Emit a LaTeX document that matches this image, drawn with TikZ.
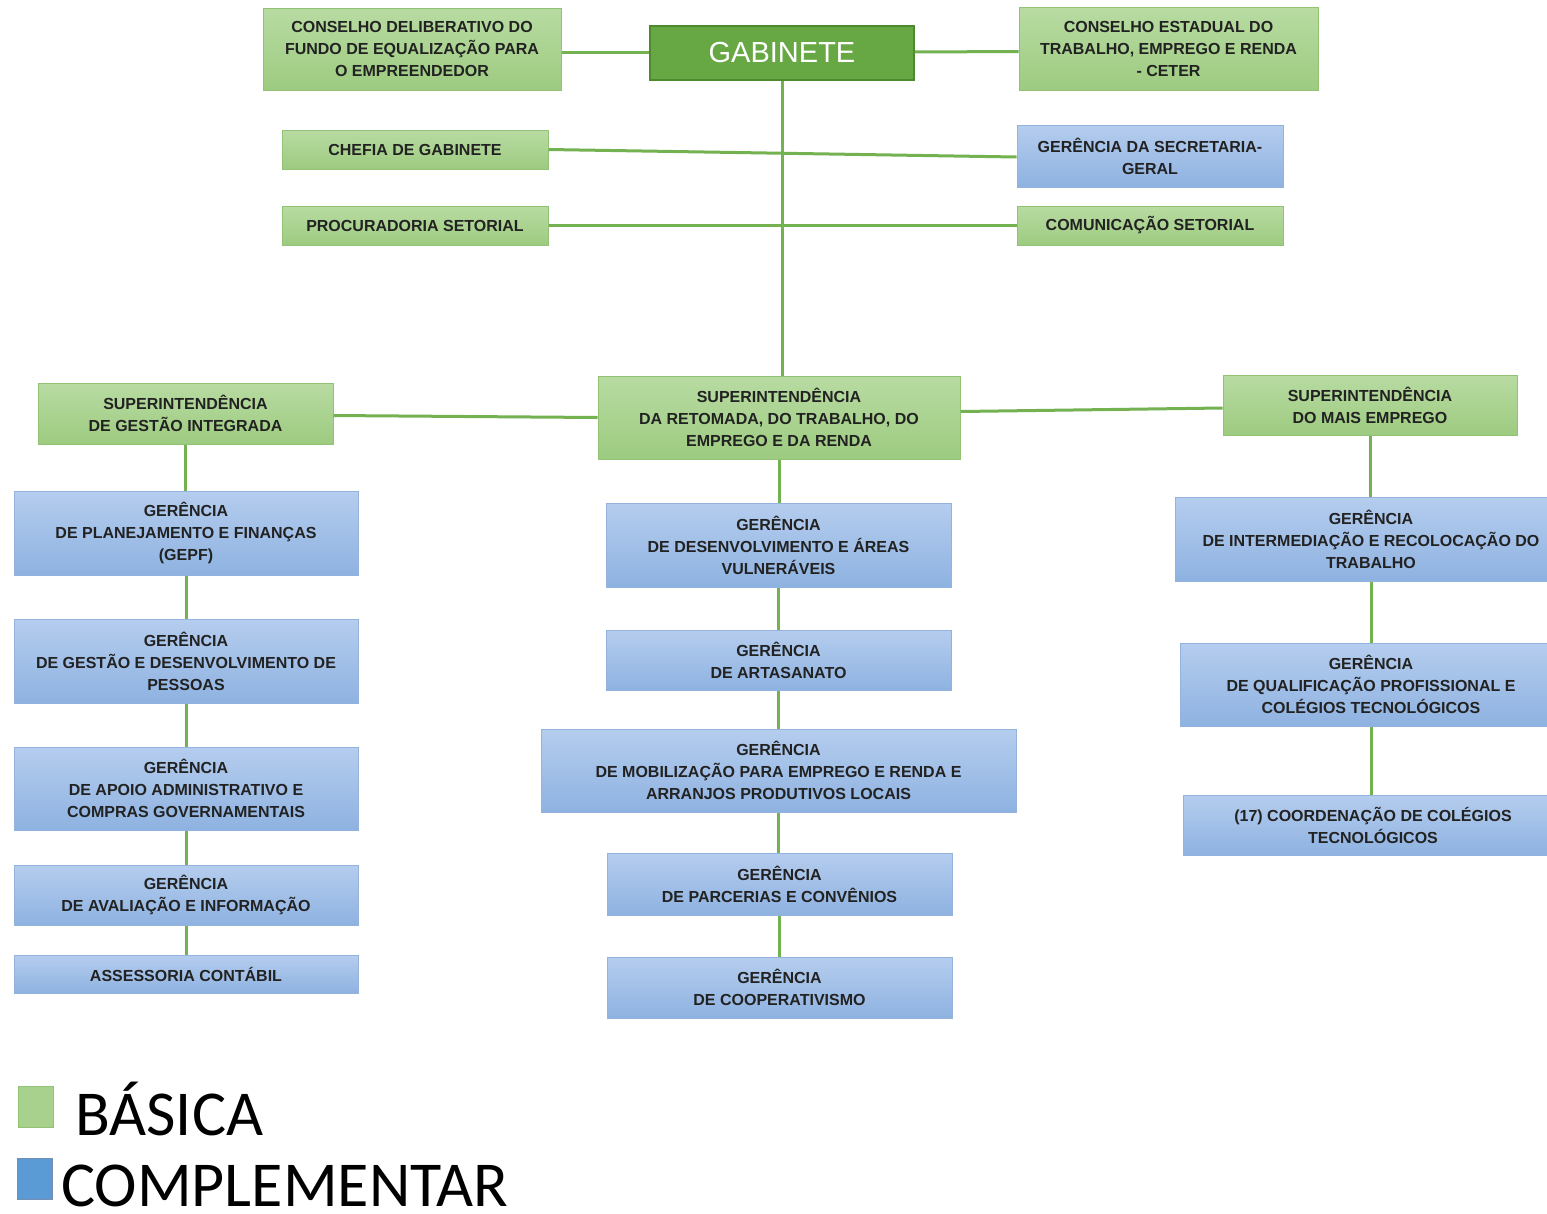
\documentclass[tikz,border=0pt]{standalone}
\usepackage{fontspec}
\setmainfont{Liberation Sans}
\newfontfamily\legfont{Carlito}
\definecolor{gtop}{HTML}{B8DBA2}
\definecolor{gbot}{HTML}{9DCB80}
\definecolor{gbrd}{HTML}{92C274}
\definecolor{btop}{HTML}{B5CDEE}
\definecolor{bbot}{HTML}{8EB2E1}
\definecolor{bbrd}{HTML}{93B3DD}
\definecolor{gabfill}{HTML}{68A844}
\definecolor{gabbrd}{HTML}{4D8A2E}
\definecolor{conn}{HTML}{74B150}
\definecolor{txt}{HTML}{222222}
\definecolor{leggreen}{HTML}{A9D18E}
\definecolor{legblue}{HTML}{5B9BD5}
\newcommand\orgbox[7]{\node[#2, minimum width={#5pt-#3pt}, minimum height={#6pt-#4pt}] (#1) at ({(#3+#5)/2},{(#4+#6)/2}) {#7};}
\begin{document}
\begin{tikzpicture}[x=1pt,y=-1pt,
  box/.style={inner sep=0pt, align=center, font=\fontsize{16}{22}\selectfont\bfseries, text=txt, line width=1pt},
  basic/.style={box, draw=gbrd, top color=gtop, bottom color=gbot},
  compl/.style={box, draw=bbrd, top color=btop, bottom color=bbot},
  gab/.style={inner sep=0pt, draw=gabbrd, fill=gabfill, line width=1.2pt, text=white, font=\fontsize{29}{32}\selectfont},
  link/.style={draw=conn, line width=3pt},
  legsq/.style={inner sep=0pt, minimum width=35pt, minimum height=41pt, line width=1pt},
  legtxt/.style={inner sep=0pt, anchor=west, font=\legfont\fontsize{64}{70}\selectfont, text=black}
]
\clip (0,0) rectangle (1547,1213);
\fill[white] (0,0) rectangle (1547,1213);

% top
\orgbox{cdf}{basic}{263}{8}{561}{90}{CONSELHO DELIBERATIVO DO\\FUNDO DE EQUALIZAÇÃO PARA\\O EMPREENDEDOR}
\orgbox{gab}{gab}{650}{26}{914}{80}{GABINETE}
\orgbox{cet}{basic}{1019}{7}{1318}{90}{CONSELHO ESTADUAL DO\\TRABALHO, EMPREGO E RENDA\\- CETER}
\orgbox{chefia}{basic}{282}{130}{548}{169}{CHEFIA DE GABINETE}
\orgbox{secr}{compl}{1017}{125}{1283}{187}{GERÊNCIA DA SECRETARIA-\\GERAL}
\orgbox{proc}{basic}{282}{206}{548}{245}{PROCURADORIA SETORIAL}
\orgbox{comu}{basic}{1017}{206}{1283}{245}{COMUNICAÇÃO SETORIAL}

% superintendencias
\orgbox{sgi}{basic}{38}{383}{333}{444}{SUPERINTENDÊNCIA\\DE GESTÃO INTEGRADA}
\orgbox{ret}{basic}{598}{376}{960}{459}{SUPERINTENDÊNCIA\\DA RETOMADA, DO TRABALHO, DO\\EMPREGO E DA RENDA}
\orgbox{sme}{basic}{1223}{375}{1517}{435}{SUPERINTENDÊNCIA\\DO MAIS EMPREGO}

% left column
\orgbox{l1}{compl}{14}{491}{358}{575}{GERÊNCIA\\DE PLANEJAMENTO E FINANÇAS\\(GEPF)}
\orgbox{l2}{compl}{14}{619}{358}{703}{GERÊNCIA\\DE GESTÃO E DESENVOLVIMENTO DE\\PESSOAS}
\orgbox{l3}{compl}{14}{747}{358}{830}{GERÊNCIA\\DE APOIO ADMINISTRATIVO E\\COMPRAS GOVERNAMENTAIS}
\orgbox{l4}{compl}{14}{865}{358}{925}{GERÊNCIA\\DE AVALIAÇÃO E INFORMAÇÃO}
\orgbox{l5}{compl}{14}{955}{358}{993}{ASSESSORIA CONTÁBIL}

% center column
\orgbox{c1}{compl}{606}{503}{951}{587}{GERÊNCIA\\DE DESENVOLVIMENTO E ÁREAS\\VULNERÁVEIS}
\orgbox{c2}{compl}{606}{630}{951}{690}{GERÊNCIA\\DE ARTASANATO}
\orgbox{c3}{compl}{541}{729}{1016}{812}{GERÊNCIA\\DE MOBILIZAÇÃO PARA EMPREGO E RENDA E\\ARRANJOS PRODUTIVOS LOCAIS}
\orgbox{c4}{compl}{607}{853}{952}{915}{GERÊNCIA\\DE PARCERIAS E CONVÊNIOS}
\orgbox{c5}{compl}{607}{957}{952}{1018}{GERÊNCIA\\DE COOPERATIVISMO}

% right column
\orgbox{r1}{compl}{1175}{497}{1567}{581}{GERÊNCIA\\DE INTERMEDIAÇÃO E RECOLOCAÇÃO DO\\TRABALHO}
\orgbox{r2}{compl}{1180}{643}{1562}{726}{GERÊNCIA\\DE QUALIFICAÇÃO PROFISSIONAL E\\COLÉGIOS TECNOLÓGICOS}
\orgbox{r3}{compl}{1183}{795}{1563}{855}{(17) COORDENAÇÃO DE COLÉGIOS\\TECNOLÓGICOS}

% connectors
\draw[link] ([yshift=-3pt]cdf.east) -- ([yshift=1pt]gab.west);
\draw[link] ([yshift=1pt]gab.east) -- ([yshift=-3pt]cet.west);
\draw[link] (gab.south) -- (gab.south |- ret.north);
\draw[link] (chefia.east) -- ([yshift=-1pt]secr.west);
\draw[link] (proc.east) -- (comu.west);
\draw[link] ([yshift=-2pt]sgi.east) -- (ret.west);
\draw[link] ([yshift=6pt]ret.east) -- ([yshift=-3pt]sme.west);
\draw[link] (sgi.south) -- (sgi.south |- l1.north);
\draw[link] (l1.south) -- (l2.north);
\draw[link] (l2.south) -- (l3.north);
\draw[link] (l3.south) -- (l4.north);
\draw[link] (l4.south) -- (l5.north);
\draw[link] (ret.south) -- (ret.south |- c1.north);
\draw[link] (c1.south) -- (c2.north);
\draw[link] (c2.south) -- (c2.south |- c3.north);
\draw[link] (c2.south |- c3.south) -- (c2.south |- c4.north);
\draw[link] (c4.south) -- (c5.north);
\draw[link] (sme.south) -- (sme.south |- r1.north);
\draw[link] ([xshift=1pt]sme.south |- r1.south) -- ([xshift=1pt]sme.south |- r2.north);
\draw[link] ([xshift=1pt]sme.south |- r2.south) -- ([xshift=1pt]sme.south |- r3.north);

% legend
\node[legsq, draw=gbrd, fill=leggreen] (lgsq) at (36,1107) {};
\node[legsq, draw=bbrd!80!black, fill=legblue] (lbsq) at (35,1179) {};
\node[legtxt] (lgt) at (75,1109) {BÁSICA};
\node[legtxt] (lbt) at (61,1186) {COMPLEMENTAR};
\end{tikzpicture}
\end{document}
